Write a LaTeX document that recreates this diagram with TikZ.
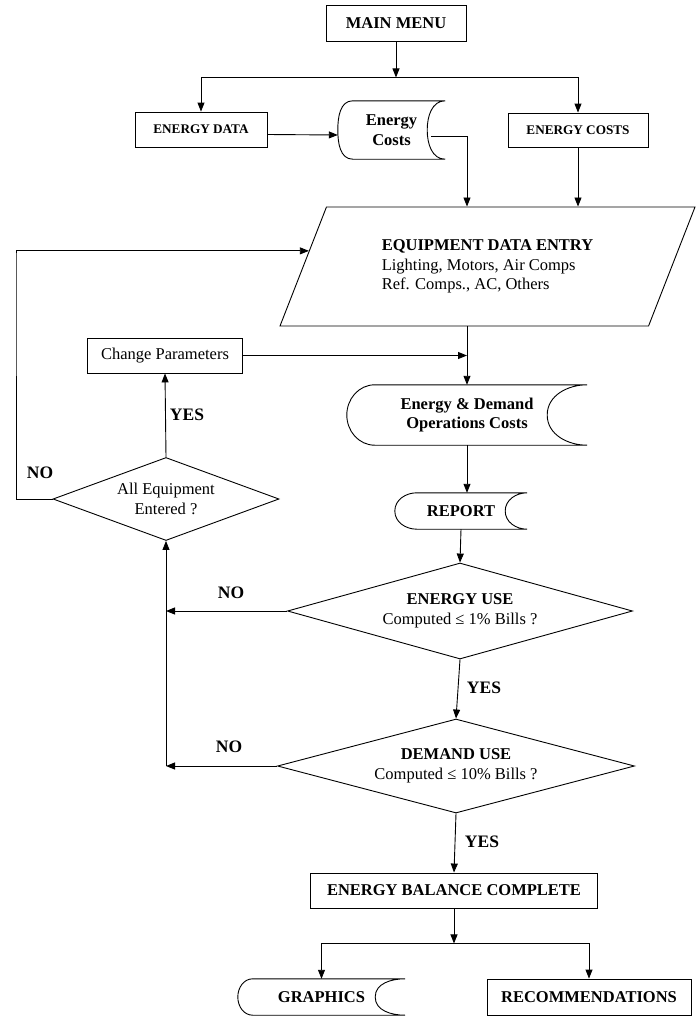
\documentclass[tikz,border=0pt]{standalone}
\usepackage{fontspec}
\setmainfont{Liberation Serif}
\usetikzlibrary{shapes.geometric,arrows.meta,positioning}

% outline of a stored-data symbol around a plain node: #1 node, #2 left bulge, #3 right bulge
\newcommand{\storedoutline}[3]{%
  \draw[line width=0.9pt] ([xshift=#2]#1.north west) to[out=180,in=90] (#1.west)
    to[out=-90,in=180] ([xshift=#2]#1.south west) -- (#1.south east)
    to[out=180,in=-90] ([xshift=-#3]#1.east) to[out=90,in=180] (#1.north east) -- cycle;}

\begin{document}
\begin{tikzpicture}[x=1pt, y=1pt,
    proc/.style={draw, line width=0.9pt, inner sep=0pt, align=center, font=\fontsize{16.5}{19.5}\selectfont\bfseries},
    small/.style={proc, font=\fontsize{13.2}{16}\selectfont\bfseries},
    stored/.style={inner sep=0pt, align=center, font=\fontsize{16.5}{19.5}\selectfont\bfseries},
    decision/.style={diamond, draw, line width=0.9pt, inner sep=0pt, align=center, font=\fontsize{16.5}{20.5}\selectfont},
    ans/.style={font=\fontsize{17.5}{20}\selectfont\bfseries},
    arr/.style={-{Triangle[length=9pt,width=7pt]}, line width=0.9pt},
]
\useasboundingbox (0,0) rectangle (696,-1017);

% Menu and cost inputs
\node[proc, minimum width=140pt, minimum height=36pt] (menu) at (396,-23) {MAIN MENU};
\node[small, minimum width=132pt, minimum height=35pt] (edata) at (201,-129.5) {ENERGY DATA};
\node[stored, minimum width=107pt, minimum height=58pt] (ecstore) at (391.5,-130) {Energy\\Costs};
\storedoutline{ecstore}{15pt}{18pt}
\node[small, minimum width=140pt, minimum height=34pt] (ecosts) at (578,-130) {ENERGY COSTS};

% Equipment entry
\node[trapezium, draw, line width=0.9pt, trapezium left angle=49, trapezium right angle=131,
      trapezium stretches body, minimum width=415pt, minimum height=119pt, inner sep=0pt,
      align=left, font=\fontsize{16.5}{19.5}\selectfont] (eqp) at (487.5,-266.5)
      {\textbf{EQUIPMENT DATA ENTRY}\\Lighting, Motors, Air Comps\\Ref. Comps., AC, Others};

\node[proc, font=\fontsize{16.5}{19.5}\selectfont, minimum width=155pt, minimum height=35pt] (cp) at (165,-355.5) {Change Parameters};
\node[stored, minimum width=240pt, minimum height=60pt] (ed) at (467,-415) {Energy \& Demand\\Operations Costs};
\storedoutline{ed}{28pt}{40pt}
\node[decision, aspect=2.7, minimum width=226pt, minimum height=83pt] (ae) at (166,-499) {All Equipment\\Entered ?};
\node[stored, minimum width=132pt, minimum height=36pt] (report) at (461,-511) {REPORT};
\storedoutline{report}{22pt}{22pt}

% Checks against the bills
\node[decision, aspect=3.6, minimum width=345pt, minimum height=96pt] (eu) at (460,-611) {\textbf{ENERGY USE}\\Computed ≤ 1\% Bills ?};
\node[decision, aspect=3.8, minimum width=357pt, minimum height=94pt] (du) at (456,-766) {\textbf{DEMAND USE}\\Computed ≤ 10\% Bills ?};

% Results
\node[proc, minimum width=287pt, minimum height=35pt] (ebc) at (454,-890.5) {ENERGY BALANCE COMPLETE};
\node[stored, minimum width=167pt, minimum height=36pt] (graph) at (321.5,-997) {GRAPHICS};
\storedoutline{graph}{15pt}{30pt}
\node[proc, minimum width=204pt, minimum height=36pt] (rec) at (589,-997) {RECOMMENDATIONS};

% Answer labels
\node[ans] (yes0) at (187,-415) {YES};
\node[ans] (no0) at (40,-473) {NO};
\node[ans] (no1) at (231,-593) {NO};
\node[ans] (yes1) at (484,-688) {YES};
\node[ans] (no2) at (229,-747) {NO};
\node[ans] (yes2) at (482,-842) {YES};

% Connectors
\draw[arr] (menu.south) -- ++(0,-36) coordinate (topsplit);
\draw[arr] (topsplit) -| (edata.north);
\draw[arr] (topsplit) -| (ecosts.north);
\draw[arr] ([yshift=-5pt]edata.east) -- ([yshift=-5pt]ecstore.west);
\draw[arr] ([xshift=-14pt,yshift=-6pt]ecstore.east) -| (ed |- eqp.north);
\draw[arr] (ecosts.south) -- (ecosts |- eqp.north);
\draw[arr] (ed |- eqp.south) -- (ed.north);
\draw[arr] (cp.east) -- (cp.east -| ed);
\draw[arr] (ed.south) -- (ed.south |- report.north);
\draw[arr] (report.south) -- (eu.north);
\draw[arr] (eu.south) -- (du.north);
\draw[arr] (du.south) -- (ebc.north);
\draw[arr] (ebc.south) -- ++(0,-35) coordinate (botsplit);
\draw[arr] (botsplit) -| (graph.north);
\draw[arr] (botsplit) -| (rec.north);

% Loops back
\coordinate (nocorner) at (16,-255);
\draw[arr] (ae.north) -- (cp.south);
\draw[arr] (ae.west) -| (nocorner) |- (eqp.175.5);
\draw[arr] (eu.west) -- (eu.west -| ae.south);
\draw[arr] (du.west) -- (du.west -| ae.south);
\draw[arr] (du.west -| ae.south) -- (ae.south);

\end{tikzpicture}
\end{document}
